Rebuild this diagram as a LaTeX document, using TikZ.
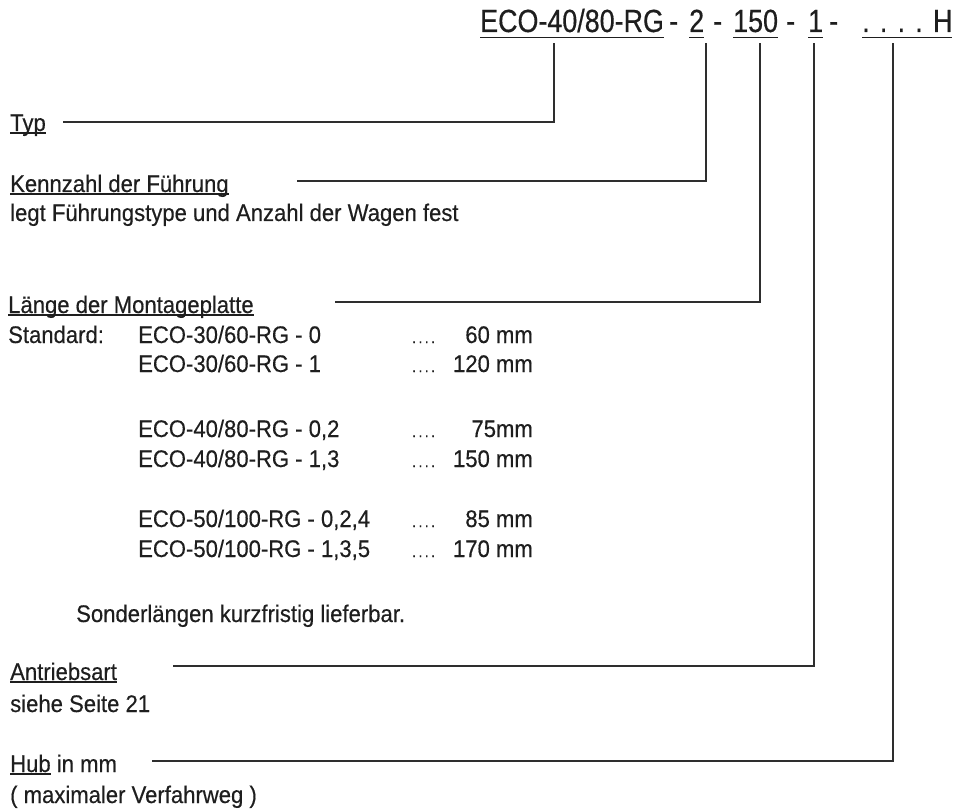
\documentclass[tikz,border=0pt]{standalone}
\usepackage{fontspec}
\setmainfont{Liberation Sans}[FakeStretch=0.92,FakeBold=0.4]
\newfontfamily\headfont{Liberation Sans}[FakeStretch=0.84,FakeBold=0.4]
\definecolor{ink}{HTML}{1E1E1E}
\definecolor{leadc}{HTML}{2E2E2E}
\newcommand\undl[2][2.6pt]{\setbox0\hbox{#2}\rlap{\rule[-#1]{\wd0}{1.4pt}}\box0\relax}

\begin{document}
\begin{tikzpicture}[x=1pt,y=-1pt,
    txt/.style={anchor=base west,inner sep=0pt,text=ink,font=\fontsize{24}{28}\selectfont},
    head/.style={anchor=base west,inner sep=0pt,outer ysep=5pt,text=ink,
      font=\headfont\fontsize{32}{36}\selectfont},
    lead/.style={line width=1.9pt,leadc}]

  \useasboundingbox (0,0) rectangle (955,810);

  % order code
  \node[head] (eco) at (480,32) {\undl[6pt]{ECO-40/80-RG}};
  \node[head] (ha) at (669,32) {-};
  \node[head] (kzn) at (689,32) {\undl[6pt]{2}};
  \node[head] (hb) at (713,32) {-};
  \node[head] (lgn) at (733,32) {\undl[6pt]{150}};
  \node[head] (hc) at (786,32) {-};
  \node[head] (ann) at (808,32) {\undl[6pt]{1}};
  \node[head] (hd) at (829,32) {-};
  \node[head] (hbn) at (862,32)
    {\undl[6pt]{.\hspace{.32em}.\hspace{.32em}.\hspace{.32em}.\hspace{.32em}H}};

  % left column
  \node[txt] (typ) at (10,131) {\undl{Typ}};
  \node[txt] (kzf) at (10,192) {\undl{Kennzahl der Führung}};
  \node[txt] (kzt) at (10,221) {legt Führungstype und Anzahl der Wagen fest};
  \node[txt] (lmp) at (8,313) {\undl{Länge der Montageplatte}};
  \node[txt] (std) at (8,343) {Standard:};
  \foreach \yb/\code/\len [count=\i] in {343/{ECO-30/60-RG - 0}/{60 mm},
      372/{ECO-30/60-RG - 1}/{120 mm}, 437/{ECO-40/80-RG - 0,2}/{75mm},
      467/{ECO-40/80-RG - 1,3}/{150 mm}, 527/{ECO-50/100-RG - 0,2,4}/{85 mm},
      557/{ECO-50/100-RG - 1,3,5}/{170 mm}} {
    \node[txt] (code\i) at (138,\yb) {\code};
    \node[txt,font=\fontsize{15}{17}\selectfont] (dots\i) at (412,\yb) {.\,.\,.\,.};
    \node[txt,anchor=base east] (len\i) at (533,\yb) {\len};
  }
  \node[txt] (sdr) at (76,622) {Sonderlängen kurzfristig lieferbar.};
  \node[txt] (atr) at (10,680) {\undl{Antriebsart}};
  \node[txt] (ats) at (10,712) {siehe Seite 21};
  \node[txt] (hub) at (10,772) {\undl{Hub} in mm};
  \node[txt] (hbv) at (10,803) {( maximaler Verfahrweg )};

  % leader lines up to the code
  \coordinate (s1) at (63,122);  \coordinate (c1) at (554,122);
  \coordinate (s2) at (297,181); \coordinate (c2) at (706,181);
  \coordinate (s3) at (335,302); \coordinate (c3) at (760,302);
  \coordinate (s4) at (173,666); \coordinate (c4) at (814,666);
  \coordinate (s5) at (152,761); \coordinate (c5) at (893,761);
  \draw[lead] (s1) -- (c1) -- (c1 |- eco.south);
  \draw[lead] (s2) -- (c2) -- (c2 |- kzn.south);
  \draw[lead] (s3) -- (c3) -- (c3 |- lgn.south);
  \draw[lead] (s4) -- (c4) -- (c4 |- ann.south);
  \draw[lead] (s5) -- (c5) -- (c5 |- hbn.south);
\end{tikzpicture}
\end{document}
